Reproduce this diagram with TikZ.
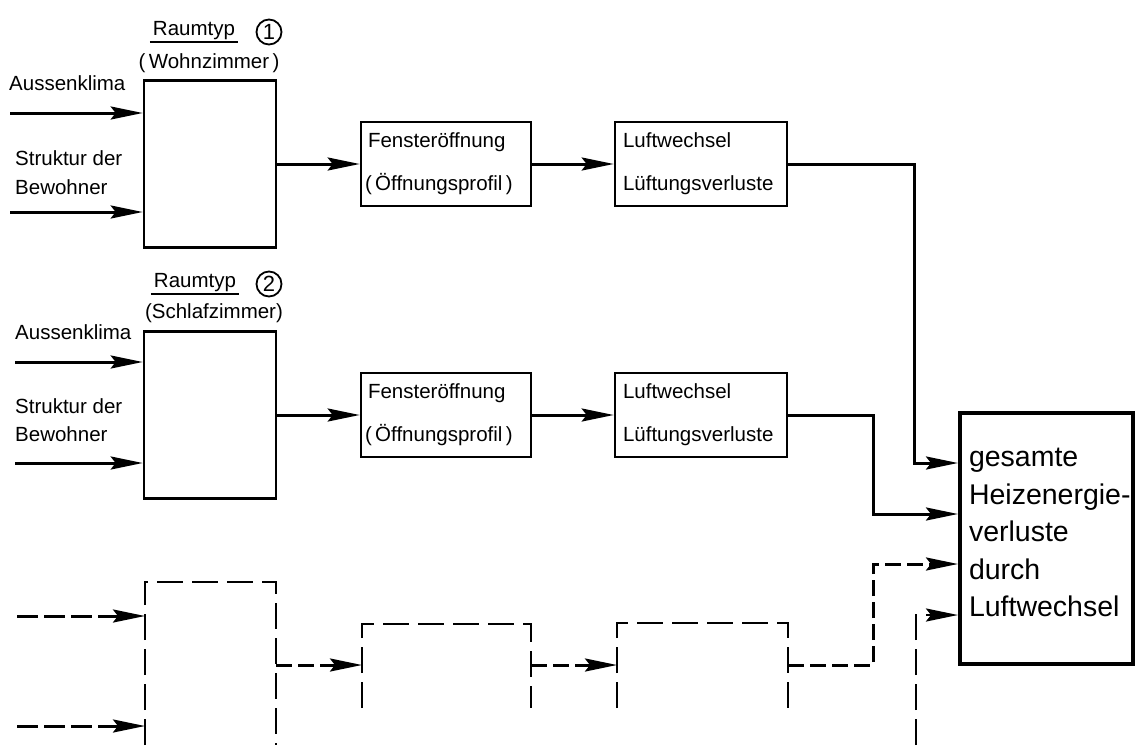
\documentclass[tikz,border=0pt]{standalone}
\usepackage{fontspec}
\setmainfont{Liberation Sans}
\usetikzlibrary{arrows.meta}
\begin{document}
\begin{tikzpicture}[x=1pt,y=-1pt,
  every node/.style={font=\fontsize{20.5}{24}\selectfont, inner sep=0pt},
  box/.style={draw, line width=2.6pt},
  lbl/.style={anchor=west},
  tip/.style={-{Stealth[length=32pt,width=13pt,inset=5pt]}},
  arr/.style={line width=3pt, tip},
  darr/.style={arr, dash pattern=on 16pt off 6pt},
  dinarr/.style={arr, dash pattern=on 21pt off 6pt},
  dbox/.style={line width=2.6pt, dash pattern=on 26pt off 9pt},
  num/.style={draw, circle, line width=1.8pt, minimum size=25pt, inner sep=0pt, font=\fontsize{22}{24}\selectfont},
  uline/.style={line width=1.8pt}
]
\useasboundingbox[fill=white] (0,0) rectangle (1137,745);

% ---------- row 1 ----------
\node[box, minimum width=132pt, minimum height=167pt] (r1) at (210,164) {};
\node[box, minimum width=170pt, minimum height=84pt, align=left, text width=162pt] (f1) at (446,164)
  {\hspace{3pt}Fensteröffnung\\[19pt](\,Öffnungsprofil\,)};
\node[box, minimum width=172pt, minimum height=84pt, align=left, text width=156pt] (l1) at (701,164)
  {Luftwechsel\\[19pt]Lüftungsverluste};

\node (rt1) at (194,31) {Raumtyp};
\draw[uline] ([xshift=-3pt,yshift=-2pt]rt1.south west) -- ([xshift=3pt,yshift=-2pt]rt1.south east);
\node[num] (c1) at (269,32) {1};
\node (wz) at (209,63) {(\,Wohnzimmer\,)};
\node[lbl] (ak1) at (9,83) {Aussenklima};
\node[lbl, align=left, font=\fontsize{20.5}{29}\selectfont] (sb1) at (15,172.5) {Struktur der\\Bewohner};

\coordinate (s1) at (10,113);
\coordinate (s2) at (10,212);
\draw[arr] (s1) -- (s1 -| r1.west);
\draw[arr] (s2) -- (s2 -| r1.west);
\draw[arr] (r1.east) -- (f1.west);
\draw[arr] (f1.east) -- (l1.west);

% ---------- row 2 ----------
\node[box, minimum width=132pt, minimum height=167pt] (r2) at (210,415) {};
\node[box, minimum width=170pt, minimum height=84pt, align=left, text width=162pt] (f2) at (446,415)
  {\hspace{3pt}Fensteröffnung\\[19pt](\,Öffnungsprofil\,)};
\node[box, minimum width=172pt, minimum height=84pt, align=left, text width=156pt] (l2) at (701,415)
  {Luftwechsel\\[19pt]Lüftungsverluste};

\node (rt2) at (195,283) {Raumtyp};
\draw[uline] ([xshift=-3pt,yshift=-2pt]rt2.south west) -- ([xshift=3pt,yshift=-2pt]rt2.south east);
\node[num] (c2) at (269,284) {2};
\node (sz) at (214,313) {(Schlafzimmer)};
\node[lbl] (ak2) at (15,332) {Aussenklima};
\node[lbl, align=left, font=\fontsize{20.5}{28}\selectfont] (sb2) at (15,420.5) {Struktur der\\Bewohner};

\coordinate (s3) at (15,362);
\coordinate (s4) at (15,463);
\draw[arr] (s3) -- (s3 -| r2.west);
\draw[arr] (s4) -- (s4 -| r2.west);
\draw[arr] (r2.east) -- (f2.west);
\draw[arr] (f2.east) -- (l2.west);

% ---------- result box ----------
\node[box, line width=4pt, minimum width=173pt, minimum height=251pt, align=left, text width=155pt,
      font=\fontsize{28.5}{37.5}\selectfont] (big) at (1046.5,538.5)
  {gesamte\\\mbox{Heizenergie-}\\verluste\\durch\\Luftwechsel\\[-25.5pt]\mbox{}};

% ---------- row 3 (dashed) ----------
\draw[dbox] (145,745) -- (145,582) -- (276,582) -- (276,745);
\draw[dbox] (362,708) -- (362,624) -- (531,624) -- (531,708);
\draw[dbox] (617,708) -- (617,623) -- (788,623) -- (788,708);

\coordinate (b3in1) at (145,616);
\coordinate (b3in2) at (145,726);
\coordinate (b3out) at (276,665);
\coordinate (f3in) at (362,665);
\coordinate (f3out) at (531,665);
\coordinate (l3in) at (617,665);
\coordinate (l3out) at (788,665);
\coordinate (s5) at (17,616);
\coordinate (s6) at (17,726);
\coordinate (s7) at (916,745);

\draw[dinarr] (s5) -- (b3in1);
\draw[dinarr] (s6) -- (b3in2);
\draw[darr] (b3out) -- (f3in);
\draw[darr] (f3out) -- (l3in);

% ---------- connections to result box ----------
\coordinate (k1) at (914,463);
\coordinate (k2) at (873,514);
\coordinate (k3) at (873,564);
\coordinate (k4) at (916,615);
\draw[arr] (l1.east) -| (k1) -- (k1 -| big.west);
\draw[arr] (l2.east) -| (k2) -- (k2 -| big.west);
\draw[darr] (l3out) -| (k3) -- (k3 -| big.west);
\draw[dbox, tip] (s7) -- (k4) -- (k4 -| big.west);
\end{tikzpicture}
\end{document}
